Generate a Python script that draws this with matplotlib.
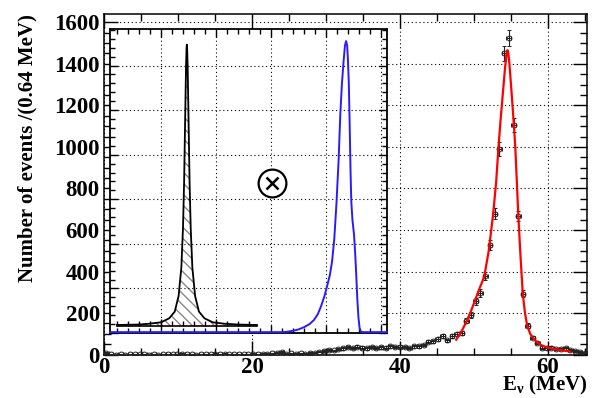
import numpy as np
import matplotlib
matplotlib.use('Agg')
import matplotlib.pyplot as plt
from matplotlib.ticker import MultipleLocator

plt.rcParams['font.family'] = 'Liberation Serif'
plt.rcParams['font.weight'] = 'bold'
plt.rcParams['mathtext.fontset'] = 'custom'
plt.rcParams['mathtext.rm'] = 'Liberation Serif:bold'
plt.rcParams['mathtext.it'] = 'Liberation Serif:bold'
plt.rcParams['mathtext.bf'] = 'Liberation Serif:bold'


# measured spectrum, 0.64 MeV bins starting at 0
bin_width = 0.64
counts = [8, 1, 0, 1, 0, 2, 1, 3, 1, 0, 1, 0, 2, 3, 2, 1, 4, 2, 1, 0,
          2, 1, 3, 4, 3, 4, 2, 1, 2, 1, 3,
          4, 3, 5, 4, 6, 10, 12, 5, 6, 4, 7, 5, 8, 10, 14, 16, 22, 20, 28,
          30, 36, 32, 38, 34, 30, 36, 33, 35, 34, 40, 36,
          38, 36, 33, 40, 40, 46, 62, 64, 75, 90, 68, 88, 100, 105, 163,
          192, 256, 297, 377, 529, 678, 990, 1450, 1523, 1105, 668, 293,
          140, 82, 58, 34, 30, 34, 25, 28, 30, 22, 18, 12, 10]

# fitted curve (red)
fit_e = [47.6, 48.3, 49.0, 49.6, 50.1, 50.6, 51.0, 51.4, 52.0, 52.6, 53.0,
         53.3, 53.6, 53.9, 54.2, 54.4, 54.5, 54.6, 54.75, 54.9, 55.1, 55.4,
         55.6, 55.8, 56.0, 56.3, 56.6, 56.9, 57.2, 57.6, 58.0, 58.5, 59.0,
         59.5, 60.0, 61.0, 62.0, 63.0]
fit_n = [72, 110, 160, 210, 256, 305, 340, 377, 500, 678, 830,
         990, 1130, 1255, 1380, 1445, 1466, 1462, 1420, 1350, 1255, 1105,
         990, 830, 668, 470, 293, 200, 140, 100, 80, 60, 47,
         40, 34, 26, 20, 15]

# inset: black narrow peak (arbitrary units)
blk_x = [-0.80, -0.40, -0.20, 0.00, 0.15, 0.25, 0.32, 0.37, 0.40, 0.42, 0.44,
         0.455, 0.465, 0.47, 0.475, 0.485, 0.50, 0.52, 0.54, 0.57, 0.62, 0.69,
         0.79, 0.94, 1.14, 1.40, 1.745]
blk_y = [0.18, 0.19, 0.21, 0.24, 0.33, 0.48, 0.83, 1.47, 2.36, 3.37, 4.85,
         5.97, 6.40, 6.47, 6.40, 5.97, 4.85, 3.37, 2.36, 1.47, 0.83, 0.48,
         0.33, 0.24, 0.21, 0.19, 0.18]

# inset: blue peak
blu_x = [-0.927, 1.618, 2.218, 2.30, 2.40, 2.50, 2.60, 2.70, 2.78, 2.85,
         2.91, 2.97, 3.02, 3.07, 3.11, 3.15, 3.19, 3.23, 3.26, 3.29, 3.32,
         3.345, 3.365, 3.385, 3.40, 3.415, 3.43, 3.445, 3.46, 3.48, 3.51,
         3.53, 3.55, 3.57, 3.59, 3.61, 3.63, 3.66, 4.109]
blu_y = [0.02, 0.02, 0.02, 0.03, 0.05, 0.08, 0.13, 0.20, 0.29, 0.42,
         0.60, 0.82, 1.05, 1.30, 1.60, 2.10, 2.90, 3.90, 4.90, 5.60, 6.10,
         6.45, 6.55, 6.45, 6.10, 5.60, 4.70, 3.70, 2.95, 2.55, 2.20,
         1.80, 1.30, 0.75, 0.35, 0.12, 0.04, 0.02, 0.02]

counts = np.array(counts, dtype=float)
energy = bin_width * (np.arange(len(counts)) + 0.5)

fig = plt.figure(figsize=(5.94, 3.98), dpi=100)
ax = fig.add_axes([0.1751, 0.109, 0.8131, 0.8558])

ax.errorbar(energy, counts, xerr=bin_width / 2, yerr=np.sqrt(counts),
            fmt='o', ms=3.5, mfc='none', mec='#222222', mew=0.7,
            ecolor='#222222', elinewidth=0.8, capsize=1.2, capthick=0.7,
            zorder=3)
ax.plot(fit_e, fit_n, color='red', lw=1.6, zorder=4)

ax.set_xlim(0, 65.28)
ax.set_ylim(0, 1640)
ax.xaxis.set_major_locator(MultipleLocator(20))
ax.xaxis.set_minor_locator(MultipleLocator(5))
ax.yaxis.set_major_locator(MultipleLocator(200))
ax.yaxis.set_minor_locator(MultipleLocator(50))
ax.tick_params(which='both', direction='in', top=True, right=True,
               labelsize=16.5)
ax.tick_params(axis='x', pad=2)
ax.tick_params(axis='y', pad=3)
ax.tick_params(which='major', length=10, width=1)
ax.tick_params(which='minor', length=5, width=1)
for lab in ax.get_xticklabels() + ax.get_yticklabels():
    lab.set_fontweight('bold')
ax.grid(True, which='major', ls=(0, (1, 2.5)), color='k', lw=0.8)
for s in ax.spines.values():
    s.set_linewidth(1.1)

ax.set_ylabel('Number of events /(0.64 MeV)', fontsize=15, loc='top',
              labelpad=12, fontweight='bold')
ax.set_xlabel('E$_\\nu$ (MeV)', fontsize=15, loc='right', labelpad=-3,
              fontweight='bold')

# inset
ins = fig.add_axes([0.1852, 0.1633, 0.4663, 0.7638])
ins.set_xlim(-0.927, 4.109)
ins.set_ylim(0, 6.82)
ins.xaxis.set_major_locator(MultipleLocator(1))
ins.xaxis.set_minor_locator(MultipleLocator(0.2))
ins.yaxis.set_major_locator(MultipleLocator(1))
ins.yaxis.set_minor_locator(MultipleLocator(0.2))
ins.tick_params(which='both', direction='in', top=True, right=True,
                labelbottom=False, labelleft=False)
ins.tick_params(which='major', length=6, width=1)
ins.tick_params(which='minor', length=3.5, width=1)
ins.grid(True, which='major', ls=(0, (1, 2.5)), color='k', lw=0.8)
for s in ins.spines.values():
    s.set_linewidth(1.3)

ins.fill_between(blk_x, 0.16, blk_y, facecolor='none', edgecolor='#888888',
                 hatch='\\\\\\', lw=0)
ins.plot(blk_x, blk_y, color='black', lw=1.3)
ins.plot([-0.8, 1.745], [0.16, 0.16], color='black', lw=1.2)
ins.vlines(np.arange(-0.8, 1.75, 0.2), 0.16, 0.26, color='black', lw=1)
ins.vlines(np.arange(0, 2, 1), 0.16, 0.32, color='black', lw=1)
ins.plot(blu_x, blu_y, color='#2a1aff', lw=1.4, zorder=3, clip_on=False)

ins.plot(2.018, 3.36, marker='o', ms=20, mfc='white', mec='black', mew=1.6)
ins.plot(2.018, 3.36, marker='x', ms=8.5, mec='black', mew=1.8)

fig.savefig('out.png', dpi=100)
